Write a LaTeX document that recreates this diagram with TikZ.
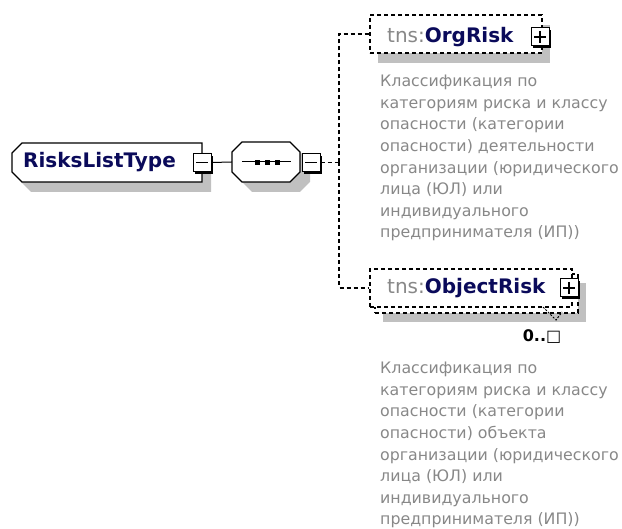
\documentclass[tikz,border=0pt]{standalone}
\usepackage{fontspec}
\setmainfont{DejaVu Sans}
\usetikzlibrary{shadows}

\definecolor{navy}{RGB}{10,10,90}
\definecolor{docgray}{RGB}{136,136,136}
\definecolor{shadowgray}{RGB}{192,192,192}

\tikzset{
  gshadow/.style 2 args={drop shadow={shadow xshift=#1pt, shadow yshift=-#2pt, fill=shadowgray, opacity=1}},
  boxline/.style={draw=black, line width=1.1pt, fill=white},
  shadowfill/.style={fill=shadowgray},
  conn/.style={line width=1.1pt, dash pattern=on 4pt off 3pt},
  hitbox/.style={rectangle, inner sep=0pt},
  elbox/.style={boxline, conn, rectangle, inner sep=0pt},
  tinybox/.style={draw=black, line width=1pt, fill=white, minimum size=18pt, inner sep=0pt,
    drop shadow={shadow xshift=2.2pt, shadow yshift=-2.2pt, fill=black, opacity=1}},
  minusbox/.style={tinybox, path picture={
    \draw[line width=1.2pt] ([xshift=3pt]path picture bounding box.west) -- ([xshift=-3pt]path picture bounding box.east);}},
  plusbox/.style={tinybox, path picture={
    \draw[line width=1.2pt] ([xshift=3pt]path picture bounding box.west) -- ([xshift=-3pt]path picture bounding box.east);
    \draw[line width=1.2pt] ([yshift=-3pt]path picture bounding box.north) -- ([yshift=3pt]path picture bounding box.south);}},
  typename/.style={font=\fontsize{20}{24}\selectfont\bfseries, text=navy, inner sep=0pt},
  doc/.style={font=\fontsize{15.8}{21.6}\selectfont, text=docgray, align=left, inner sep=0pt}
}

\begin{document}
\begin{tikzpicture}[x=1pt, y=-1pt]
  \useasboundingbox (0,0) rectangle (622,529);

  % --- complex type ---
  \fill[shadowfill, shift={(9,10)}] (12,153) -- (22,143) -- (202,143) -- (202,182) -- (22,182) -- (12,172) -- cycle;
  \draw[boxline] (12,153) -- (22,143) -- (202,143) -- (202,182) -- (22,182) -- (12,172) -- cycle;
  \node[hitbox, minimum width=190pt, minimum height=39pt] (root) at (107,162.5) {};
  \node[typename, anchor=base west] (rootname) at (23,168) {RisksListType};
  \node[minusbox] (rootm) at (202,162.5) {};

  % --- sequence ---
  \fill[shadowfill, shift={(10,10)}] (242,142) -- (290,142) -- (300,152) -- (300,172) -- (290,182) -- (242,182) -- (232,172) -- (232,152) -- cycle;
  \draw[boxline] (242,142) -- (290,142) -- (300,152) -- (300,172) -- (290,182) -- (242,182) -- (232,172) -- (232,152) -- cycle;
  \node[hitbox, minimum width=68pt, minimum height=40pt] (seq) at (266,162) {};
  \draw[line width=1pt] ([xshift=10pt]seq.west) -- ([xshift=-9pt]seq.east);
  \foreach \i in {257,267,277}
    \fill (\i-2.5,160) rectangle ++(5,5);
  \node[minusbox] (seqm) at (311,162.5) {};
  \draw[line width=1pt] (rootm.east) -- (seq.west);

  % --- OrgRisk ---
  \node[elbox, gshadow={8}{10}, minimum width=172pt, minimum height=38pt] (org) at (456,34) {};
  \node[typename, anchor=base west] (orgname) at (387,43) {\textcolor{docgray}{\mdseries tns:}OrgRisk};
  \node[plusbox] (orgp) at (540,37) {};
  \node[doc, anchor=north west] (orgdoc) at (380,75) {Классификация по\\категориям риска и классу\\опасности (категории\\опасности) деятельности\\организации (юридического\\лица (ЮЛ) или\\индивидуального\\предпринимателя (ИП))};

  % --- ObjectRisk (0..n) ---
  \node[elbox, gshadow={8}{9}, minimum width=203pt, minimum height=39pt] (objback) at (476.5,293.5) {};
  \node[elbox, minimum width=202pt, minimum height=38pt] (obj) at (471,288) {};
  \node[typename, anchor=base west] (objname) at (387,294) {\textcolor{docgray}{\mdseries tns:}ObjectRisk};
  \node[plusbox] (objp) at (569,288) {};
  \draw[line width=1pt, dash pattern=on 2pt off 1.5pt] (543,307) -- (556,320) -- (562,312);
  \node[font=\fontsize{16}{18}\selectfont, inner sep=0pt] (objocc) at (542,337) {\textbf{0..}□};
  \node[doc, anchor=north west] (objdoc) at (380,362) {Классификация по\\категориям риска и классу\\опасности (категории\\опасности) объекта\\организации (юридического\\лица (ЮЛ) или\\индивидуального\\предпринимателя (ИП))};

  % --- choice lines ---
  \coordinate (fork) at (339,162.5);
  \draw[conn] (seqm.east) -- (fork);
  \draw[conn] (fork) |- (org.west);
  \draw[conn] (fork) |- (obj.west);

\end{tikzpicture}
\end{document}
